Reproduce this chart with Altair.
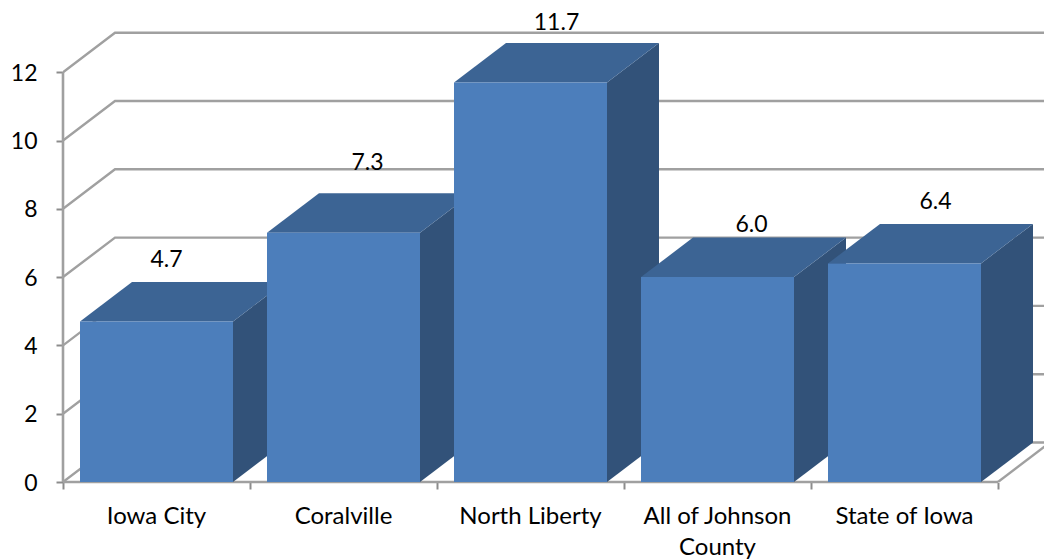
import altair as alt
import pandas as pd

categories = ["Iowa City", "Coralville", "North Liberty", "All of Johnson\nCounty", "State of Iowa"]
values = [4.7, 7.3, 11.7, 6.0, 6.4]
value_labels = ["4.7", "7.3", "11.7", "6.0", "6.4"]
grid_levels = [0, 2, 4, 6, 8, 10, 12]
category_edges = [0, 1, 2, 3, 4, 5]

# Label nudges in pixels, relative to the back edge of each bar's top face
label_dx = [10, 24, 26, 34, 31]
label_dy = [-22, -30, -20, -13, -22]

# Oblique projection of the third dimension, in data units
PX_PER_CAT = 187.0
PX_PER_UNIT = 34.15
DEPTH_X = 52 / PX_PER_CAT
DEPTH_Y = 39.5 / PX_PER_UNIT
BAR_INSET = 17 / PX_PER_CAT
BAR_WIDTH = 153 / PX_PER_CAT

PLOT_W = 981
PLOT_H = 482
FONT = "Lato"
FS_TEXT = 24
FS_NUM = 23
FRONT, TOP, SIDE = "#4c7ebb", "#3c6494", "#325279"
GRID, AXIS = "#a0a0a0", "#8c8c8c"

x_scale = alt.Scale(domain=[0, PLOT_W / PX_PER_CAT], nice=False, zero=False)
y_scale = alt.Scale(domain=[0, PLOT_H / PX_PER_UNIT], nice=False, zero=False)
x_axis = alt.Axis(
    values=category_edges, domain=False, grid=False, title=None, labels=False,
    tickColor=AXIS, tickWidth=2, tickSize=7,
)
y_axis = alt.Axis(
    values=grid_levels, domain=False, grid=False, title=None, tickColor=AXIS,
    tickWidth=2, tickSize=7, labelFont=FONT, labelFontSize=FS_NUM, labelColor="#000000",
    labelPadding=19, labelOffset=1,
)
X = alt.X("x:Q", scale=x_scale, axis=x_axis)
Y = alt.Y("y:Q", scale=y_scale, axis=y_axis)

# Back wall lines: a short diagonal off the axis, then along the wall
grid_rows = []
for level in grid_levels:
    grid_rows += [
        {"level": level, "step": 0, "x": 0, "y": level},
        {"level": level, "step": 1, "x": DEPTH_X, "y": level + DEPTH_Y},
        {"level": level, "step": 2, "x": 5 + DEPTH_X, "y": level + DEPTH_Y},
    ]
grid = alt.Chart(pd.DataFrame(grid_rows)).mark_line(color=GRID, strokeWidth=2.4, clip=True).encode(
    x=X, y=Y, detail="level:N", order="step:Q"
)

floor_edge = alt.Chart(pd.DataFrame({"x": [5, 5 + DEPTH_X], "y": [0, DEPTH_Y]})).mark_line(
    color=GRID, strokeWidth=2.4, clip=True
).encode(x=X, y=Y)

y_line = alt.Chart(pd.DataFrame({"x": [0, 0], "y": [0, 12]})).mark_line(color=GRID, strokeWidth=2.6).encode(x=X, y=Y)
x_line = alt.Chart(pd.DataFrame({"x": [0, 5], "y": [0, 0]})).mark_line(color=GRID, strokeWidth=2.6).encode(x=X, y=Y)

Y2 = alt.Y2("y2:Q")
bars = []
for i, v in enumerate(values):
    xl = i + BAR_INSET
    xr = xl + BAR_WIDTH
    side = pd.DataFrame({"x": [xr, xr + DEPTH_X], "y": [0, DEPTH_Y], "y2": [v, v + DEPTH_Y]})
    top = pd.DataFrame({
        "x": [xl, xl + DEPTH_X, xr, xr + DEPTH_X],
        "y": [v, v, v, v + DEPTH_Y],
        "y2": [v, v + DEPTH_Y, v + DEPTH_Y, v + DEPTH_Y],
    })
    front = pd.DataFrame({"x": [xl, xr], "y": [0, 0], "y2": [v, v]})
    for frame, colour in ((side, SIDE), (top, TOP), (front, FRONT)):
        bars.append(alt.Chart(frame).mark_area(color=colour, opacity=1).encode(x=X, y=Y, y2=Y2))

value_text = []
for i, v in enumerate(values):
    row = pd.DataFrame({"x": [i + 0.5], "y": [v + DEPTH_Y], "t": [value_labels[i]]})
    value_text.append(
        alt.Chart(row)
        .mark_text(font=FONT, fontSize=FS_NUM, color="#000000", dx=label_dx[i], dy=label_dy[i])
        .encode(x=X, y=Y, text="t:N")
    )

cat_table = pd.DataFrame({"x": [i + 0.5 for i in range(5)], "y": [0] * 5, "t": categories})
cat_text = alt.Chart(cat_table).mark_text(
    font=FONT, fontSize=FS_TEXT, color="#000000", baseline="top", dy=23, lineBreak="\n", lineHeight=31
).encode(x=X, y=Y, text="t:N")

chart = alt.layer(
    grid, floor_edge, y_line, x_line, *bars, *value_text, cat_text
).properties(
    width=PLOT_W,
    height=PLOT_H,
    autosize=alt.AutoSizeParams(type="none"),
    padding={"left": 63, "top": 0, "right": 0, "bottom": 78},
    background="#ffffff",
).configure_view(stroke=None)

chart.save("out.html", embed_options={"renderer": "svg", "actions": False})
